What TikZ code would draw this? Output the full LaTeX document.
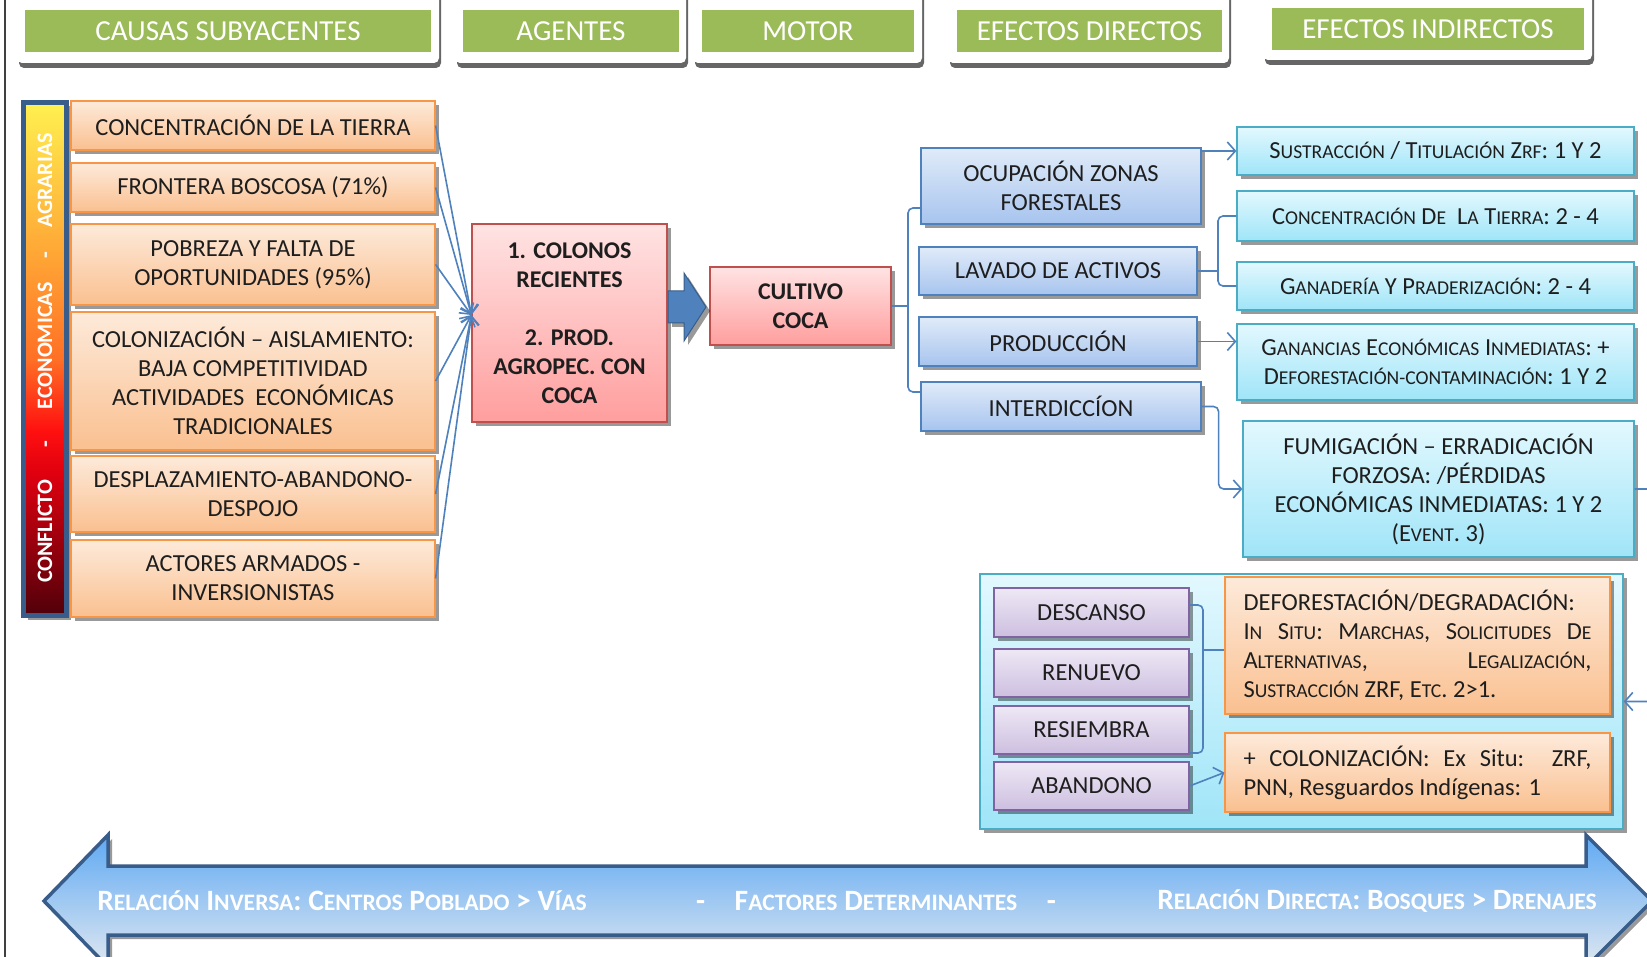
\documentclass[tikz,border=0pt]{standalone}
\usepackage{fontspec}
\setmainfont{Carlito}
\usetikzlibrary{arrows.meta,shadows}

\definecolor{hdrgreen}{HTML}{9BBB59}
\definecolor{causetop}{HTML}{FDEADA}
\definecolor{causebot}{HTML}{FAC090}
\definecolor{causeline}{HTML}{F79646}
\definecolor{agenttop}{HTML}{FFE3E3}
\definecolor{agentbot}{HTML}{FF9E9E}
\definecolor{agentline}{HTML}{C0504D}
\definecolor{directtop}{HTML}{E0EBF9}
\definecolor{directbot}{HTML}{A7C4EE}
\definecolor{directline}{HTML}{4F81BD}
\definecolor{indtop}{HTML}{E3F8FE}
\definecolor{indbot}{HTML}{9FE5F8}
\definecolor{indline}{HTML}{4BACC6}
\definecolor{fallowtop}{HTML}{EEE8F5}
\definecolor{fallowbot}{HTML}{CDBFE0}
\definecolor{fallowline}{HTML}{8064A2}
\definecolor{linkblue}{HTML}{4F81BD}
\definecolor{navy}{HTML}{385D8A}
\definecolor{textdark}{HTML}{1E1E1E}
\definecolor{arrowtop}{HTML}{5FA9F3}
\definecolor{arrowbot}{HTML}{E0E8F0}
\definecolor{barA}{HTML}{50000A}
\definecolor{barB}{HTML}{E0000F}
\definecolor{barC}{HTML}{FF1010}
\definecolor{barD}{HTML}{FF7025}
\definecolor{barE}{HTML}{FFA535}
\definecolor{barF}{HTML}{FFF050}

\pgfdeclareverticalshading{conflictbar}{100bp}{color(0bp)=(barA); color(25bp)=(barA); color(39bp)=(barB); color(43bp)=(barC); color(50bp)=(barD); color(60bp)=(barE); color(75bp)=(barF); color(100bp)=(barF)}

\makeatletter
\newcommand\pseudosc[1]{{\fontsize{\strip@pt\dimexpr\f@size pt*4/5\relax}{\f@baselineskip}\selectfont\MakeUppercase{#1}}}
\makeatother

\tikzset{
  boxshadow/.style={drop shadow={shadow xshift=4pt,shadow yshift=-4pt,opacity=.4,fill=black}},
  header/.style={fill=hdrgreen, text=white, font=\fontsize{29}{34}\selectfont, minimum height=42pt},
  hdrframe/.style={fill=white, rounded corners=5pt, drop shadow={shadow xshift=2pt,shadow yshift=-5pt,opacity=.6,fill=black}},
  causebox/.style={boxshadow, draw=causeline, line width=1.2pt, top color=causetop, bottom color=causebot, minimum width=364pt},
  agentbox/.style={boxshadow, draw=agentline, line width=1.2pt, top color=agenttop, bottom color=agentbot, font=\bfseries\fontsize{24}{29}\selectfont},
  directbox/.style={boxshadow, draw=directline, line width=1.2pt, top color=directtop, bottom color=directbot},
  indbox/.style={boxshadow, draw=indline, line width=1.2pt, top color=indtop, bottom color=indbot},
  contbox/.style={boxshadow, draw=indline, line width=1.4pt, top color=indtop, bottom color=indbot},
  fallowbox/.style={boxshadow, draw=fallowline, line width=1.2pt, top color=fallowtop, bottom color=fallowbot, minimum width=195pt, minimum height=48pt},
  conn/.style={draw=linkblue, line width=1.6pt, -{Straight Barb[length=8pt,width=18pt]}},
  brace/.style={draw=linkblue, line width=1.6pt, rounded corners=5pt},
  bandtext/.style={text=white, font=\bfseries\fontsize{29.5}{33}\selectfont},
}

\begin{document}
\begin{tikzpicture}[x=1pt, y=-1pt,
    every node/.style={font=\fontsize{24.5}{29}\selectfont, text=textdark, inner sep=0pt, align=center}]
  \useasboundingbox (0,0) rectangle (1647,957);
  \clip (0,0) rectangle (1647,957);
  \fill[white] (0,0) rectangle (1647,957);
  \draw[black!75, line width=1.5pt] (5,0) -- (5,957);

  % column headers
  \path[hdrframe] (17,-10) rectangle (439,63);
  \path[hdrframe] (455,-10) rectangle (686,63);
  \path[hdrframe] (693,-10) rectangle (922,63);
  \path[hdrframe] (948,-10) rectangle (1229,63);
  \path[hdrframe] (1263,-10) rectangle (1592,60);
  \node[header, minimum width=406pt] (hcausas) at (228,31.5) {CAUSAS SUBYACENTES};
  \node[header, minimum width=216pt] (hagentes) at (571,31.5) {AGENTES};
  \node[header, minimum width=212pt] (hmotor) at (808,31.5) {MOTOR};
  \node[header, minimum width=265pt] (hdirectos) at (1089.5,31.5) {EFECTOS DIRECTOS};
  \node[header, minimum width=312pt] (hindirectos) at (1428,29.4) {EFECTOS INDIRECTOS};

  % conflict bar
  \shadedraw[shading=conflictbar, draw=navy, line width=5pt, boxshadow] (23.5,102.5) rectangle (66.5,615.5);
  \node[rotate=90, text=white, font=\bfseries\fontsize{22}{26}\selectfont] (bartitle) at (45,358)
    {CONFLICTO\hspace{32pt}-\hspace{32pt}ECONOMICAS\hspace{24pt}-\hspace{24pt}AGRARIAS};

  % underlying causes
  \node[causebox, minimum height=49pt] (conc) at (253,125.5) {CONCENTRACIÓN DE LA TIERRA};
  \node[causebox, minimum height=49pt] (front) at (253,187.5) {FRONTERA BOSCOSA (71\%)};
  \node[causebox, minimum height=81pt] (pobre) at (253,264.5) {POBREZA Y FALTA DE\\OPORTUNIDADES (95\%)};
  \node[causebox, minimum height=138pt] (coloniz) at (253,381) {COLONIZACIÓN – AISLAMIENTO:\\BAJA COMPETITIVIDAD\\ACTIVIDADES\ \ ECONÓMICAS\\TRADICIONALES};
  \node[causebox, minimum height=76pt] (despl) at (253,494) {DESPLAZAMIENTO-ABANDONO-\\DESPOJO};
  \node[causebox, minimum height=77pt] (actores) at (253,578.5) {ACTORES ARMADOS -\\INVERSIONISTAS};

  % agents and motor
  \node[agentbox, minimum width=195pt, minimum height=198pt] (agentes) at (569.5,323)
    {1. COLONOS\\RECIENTES\\[29pt]2. PROD.\\AGROPEC. CON\\COCA};
  \node[agentbox, minimum width=181pt, minimum height=78pt] (cultivo) at (800.5,306) {CULTIVO\\COCA};
  \coordinate (meet) at (agentes.west |- 0,315);
  \draw[conn] (conc.east) -- (meet);
  \draw[conn] (front.east) -- (meet);
  \draw[conn] (pobre.east) -- (meet);
  \draw[conn] (coloniz.east) -- (meet);
  \draw[conn] (despl.east) -- (meet);
  \draw[conn] (actores.east) -- (meet);
  \filldraw[fill=linkblue, draw=navy, line width=1pt, boxshadow] (668,291) -- (684,291) -- (684,273) -- (706,307)
    -- (684,341) -- (684,323) -- (668,323) -- cycle;

  % direct effects
  \node[directbox, minimum width=280pt, minimum height=76pt] (ocupa) at (1061,186) {OCUPACIÓN ZONAS\\FORESTALES};
  \node[directbox, minimum width=278pt, minimum height=48pt] (lavado) at (1058,271) {LAVADO DE ACTIVOS};
  \node[directbox, minimum width=278pt, minimum height=49pt] (produc) at (1058,341.5) {PRODUCCIÓN};
  \node[directbox, minimum width=280pt, minimum height=49pt] (interd) at (1061,406.5) {INTERDICCÍON};
  \draw[brace] (ocupa.west |- 0,208) -- (908,208) -- (908,392) -- (interd.west |- 0,392);
  \draw[brace] (cultivo.east) -- (908,306);

  % indirect effects
  \node[indbox, minimum width=397pt, minimum height=48pt] (sustr) at (1435.5,151)
    {S\pseudosc{ustracción} / T\pseudosc{itulación} Z\pseudosc{rf}: 1 Y 2};
  \node[indbox, minimum width=397pt, minimum height=50pt] (concent) at (1435.5,216)
    {C\pseudosc{oncentración} D\pseudosc{e}\ \ L\pseudosc{a} T\pseudosc{ierra}: 2 - 4};
  \node[indbox, minimum width=397pt, minimum height=48pt] (ganad) at (1435.5,286)
    {G\pseudosc{anadería} Y P\pseudosc{raderización}: 2 - 4};
  \node[indbox, minimum width=397pt, minimum height=76pt] (gananc) at (1435.5,362)
    {G\pseudosc{anancias} E\pseudosc{conómicas} I\pseudosc{nmediatas}: +\\D\pseudosc{eforestación-contaminación}: 1 Y 2};
  \node[indbox, minimum width=391pt, minimum height=136pt] (fumig) at (1438.5,489)
    {FUMIGACIÓN – ERRADICACIÓN\\FORZOSA: /PÉRDIDAS\\ECONÓMICAS INMEDIATAS: 1 Y 2\\(E\pseudosc{vent}. 3)};
  \draw[conn] (ocupa.east |- sustr.west) -- (sustr.west);
  \draw[brace] (concent.west) -- (1218,216) -- (1218,286) -- (ganad.west);
  \draw[brace] (lavado.east) -- (1218,271);
  \draw[conn] (produc.east) -- (produc.east -| gananc.west);
  \draw[conn, rounded corners=5pt] (interd.east) -- ++(17,0) |- (fumig.west);

  % fallow cycle
  \node[contbox, minimum width=643pt, minimum height=255pt] (fallow) at (1301.5,701.5) {};
  \node[fallowbox, minimum height=49pt] (descanso) at (1091.5,612.5) {DESCANSO};
  \node[fallowbox] (renuevo) at (1091.5,673) {RENUEVO};
  \node[fallowbox] (resiembra) at (1091.5,730) {RESIEMBRA};
  \node[fallowbox] (abandono) at (1091.5,786) {ABANDONO};
  \node[causebox, minimum width=385pt, minimum height=137pt, text width=348pt, align=justify] (deforest) at (1417.5,645.5)
    {DEFORESTACIÓN/DEGRADACIÓN:\\I\pseudosc{n} S\pseudosc{itu}: M\pseudosc{archas}, S\pseudosc{olicitudes} D\pseudosc{e}\linebreak
     A\pseudosc{lternativas}, L\pseudosc{egalización},\linebreak S\pseudosc{ustracción} ZRF, E\pseudosc{tc}. 2>1.};
  \node[causebox, minimum width=385pt, minimum height=79pt, text width=348pt, align=justify] (recolon) at (1417.5,772.5)
    {+ COLONIZACIÓN: Ex Situ:\ \ ZRF,\linebreak PNN, Resguardos Indígenas: 1};
  \draw[brace] (descanso.east |- 0,605) -- (1203,605) -- (1203,753) -- (resiembra.east |- 0,753);
  \draw[brace] (1203,650) -- (deforest.west |- 0,650);
  \draw[conn] (abandono.east) -- (recolon.west);
  \draw[conn, rounded corners=5pt] (fumig.east) -- ++(40,0) |- (fallow.east);

  % determining factors
  \path[draw=navy, line width=3.5pt, top color=arrowtop, bottom color=arrowbot, boxshadow]
    (44,901) -- (108,835) -- (108,866) -- (1586,866) -- (1586,835) -- (1652,901)
    -- (1586,967) -- (1586,935) -- (108,935) -- (108,967) -- cycle;
  \node[bandtext] (inversa) at (342,901)
    {R\pseudosc{elación} I\pseudosc{nversa}: C\pseudosc{entros} P\pseudosc{oblado} > V\pseudosc{ías}};
  \node[bandtext] (factores) at (876,901)
    {-\quad F\pseudosc{actores} D\pseudosc{eterminantes}\quad -};
  \node[bandtext] (directa) at (1377,901)
    {R\pseudosc{elación} D\pseudosc{irecta}: B\pseudosc{osques} > D\pseudosc{renajes}};
\end{tikzpicture}
\end{document}
